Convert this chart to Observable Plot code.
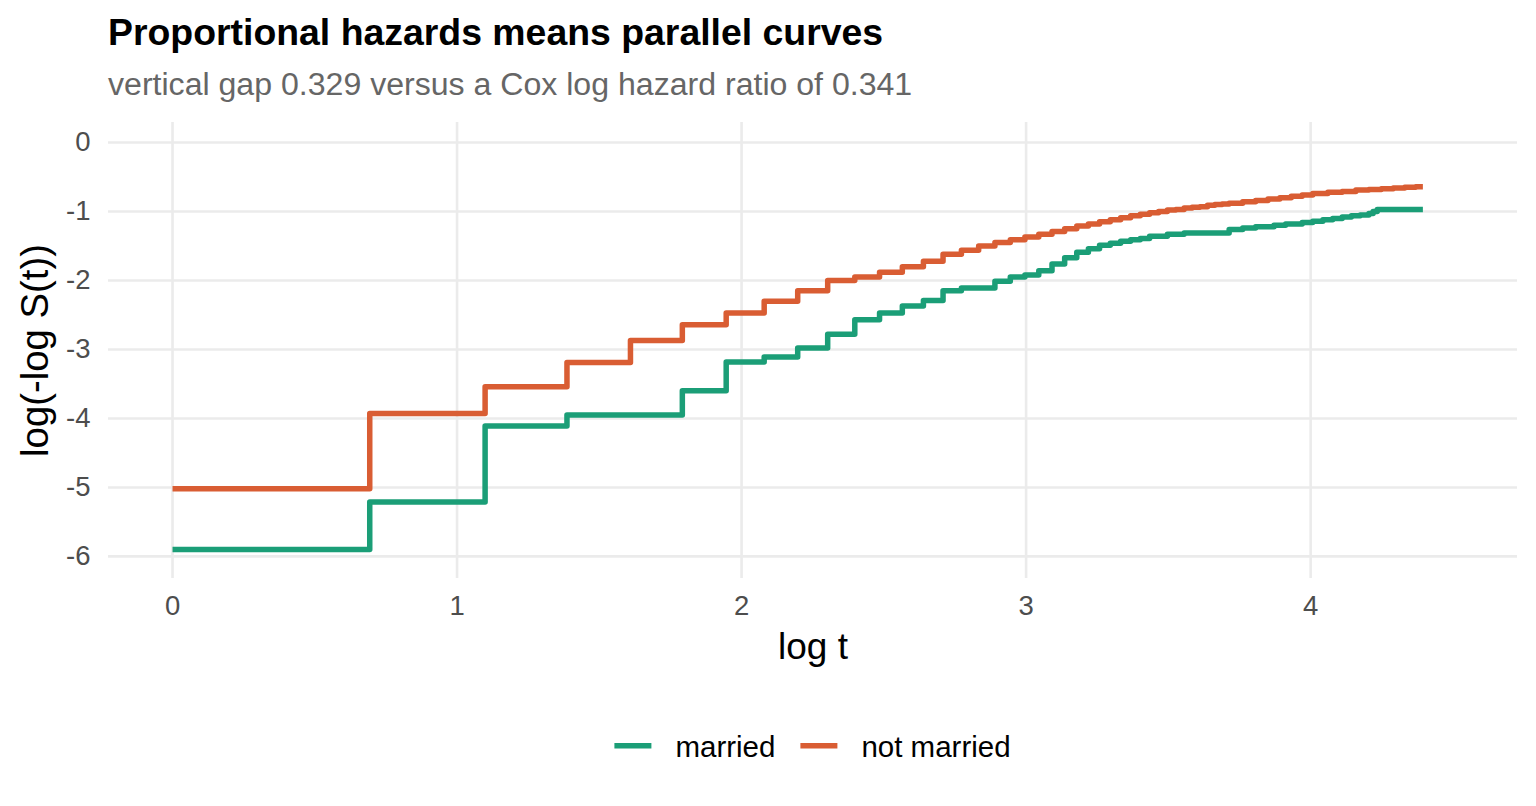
<!DOCTYPE html>
<html>
<head>
<meta charset="utf-8">
<script src="https://cdn.jsdelivr.net/npm/d3@7"></script>
<script src="https://cdn.jsdelivr.net/npm/@observablehq/plot@0.6"></script>
<style>
  html, body { margin: 0; padding: 0; background: #fff; }
  body { font-family: "Liberation Sans", Arial, Helvetica, sans-serif; }
  #wrap { position: relative; width: 1536px; height: 806px; overflow: hidden; background: #fff; }
  #title { position: absolute; left: 108px; top: 14px; font-size: 37.4px; line-height: 37.4px; font-weight: bold; color: #000; white-space: nowrap; }
  #subtitle { position: absolute; left: 108px; top: 68px; font-size: 32.1px; line-height: 32.1px; color: #666; white-space: nowrap; }
  #chart { position: absolute; left: 0; top: 110px; }
  #legend { position: absolute; left: 0; top: 715px; }
</style>
</head>
<body>
<div id="wrap">
  <div id="title"></div>
  <div id="subtitle"></div>
  <div id="chart"></div>
  <svg id="legend" width="1536" height="70"></svg>
</div>
<script>
// ---- data ----
const titleText = "Proportional hazards means parallel curves";
const subtitleText = "vertical gap 0.329 versus a Cox log hazard ratio of 0.341";
const xLabel = "log t";
const yLabel = "log(-log S(t))";

const groups = ["married", "not married"];
const colors = ["#1b9e77", "#d95d33"];

const marriedTime  = [1, 2, 3, 4, 6, 7, 8, 9, 10, 11, 12, 13, 14, 15, 16, 18, 19, 20, 21, 22, 23, 24, 25, 26, 27, 28, 29, 30, 31, 33, 35, 41, 43, 45, 48, 50, 53, 55, 57, 59, 61, 63, 65, 67, 68, 69, 81];
const marriedValue = [-5.90, -5.21, -4.11, -3.95, -3.60, -3.18, -3.11, -2.98, -2.78, -2.57, -2.47, -2.37, -2.29, -2.15, -2.11, -2.01, -1.95, -1.92, -1.86, -1.76, -1.67, -1.59, -1.54, -1.49, -1.46, -1.43, -1.41, -1.39, -1.36, -1.33, -1.31, -1.26, -1.24, -1.22, -1.20, -1.18, -1.16, -1.14, -1.12, -1.10, -1.08, -1.06, -1.05, -1.03, -1.00, -0.97, -0.97];

const notMarriedTime  = [1, 2, 3, 4, 5, 6, 7, 8, 9, 10, 11, 12, 13, 14, 15, 16, 17, 18, 19, 20, 21, 22, 23, 24, 25, 26, 27, 28, 29, 30, 31, 32, 33, 34, 35, 36, 37, 38, 39, 40, 41, 43, 45, 47, 49, 51, 53, 55, 58, 61, 64, 67, 70, 73, 76, 79, 81];
const notMarriedValue = [-5.02, -3.93, -3.54, -3.19, -2.87, -2.64, -2.47, -2.30, -2.15, -2.00, -1.95, -1.88, -1.80, -1.72, -1.62, -1.56, -1.50, -1.45, -1.41, -1.37, -1.33, -1.29, -1.25, -1.21, -1.18, -1.15, -1.12, -1.09, -1.06, -1.04, -1.02, -1.00, -0.98, -0.97, -0.95, -0.94, -0.93, -0.91, -0.90, -0.89, -0.88, -0.86, -0.84, -0.82, -0.80, -0.78, -0.76, -0.74, -0.72, -0.71, -0.69, -0.68, -0.67, -0.66, -0.65, -0.64, -0.64];

const xTicks = [0, 1, 2, 3, 4];
const yTicks = [0, -1, -2, -3, -4, -5, -6];

// ---- build table ----
const rows = [];
marriedTime.forEach((t, i) => rows.push({group: groups[0], t, v: marriedValue[i]}));
notMarriedTime.forEach((t, i) => rows.push({group: groups[1], t, v: notMarriedValue[i]}));

document.getElementById("title").textContent = titleText;
document.getElementById("subtitle").textContent = subtitleText;

const FONT = "Liberation Sans, Arial, Helvetica, sans-serif";
const grid = {stroke: "#ebebeb", strokeOpacity: 1, strokeWidth: 2.6};

const plot = Plot.plot({
  width: 1536,
  height: 580,
  marginLeft: 108,
  marginRight: 19,
  marginTop: 12,
  marginBottom: 112,
  style: {fontFamily: FONT, background: "white", overflow: "visible"},
  x: {domain: [-0.225, 4.727]},
  y: {domain: [-6.32, 0.29]},
  color: {domain: groups, range: colors},
  marks: [
    Plot.gridX(xTicks, grid),
    Plot.gridY(yTicks, grid),
    Plot.axisX(xTicks, {tickSize: 0, tickPadding: 17, fontSize: 27.5, fill: "#4d4d4d", label: null, tickFormat: d => String(d)}),
    Plot.axisY(yTicks, {tickSize: 0, tickPadding: 18, fontSize: 27.5, fill: "#4d4d4d", label: null, tickFormat: d => String(d)}),
    Plot.line(rows, {
      x: d => Math.log(d.t), y: "v", z: "group", stroke: "group",
      strokeWidth: 5.5, curve: "step-after", strokeLinejoin: "round", strokeLinecap: "butt"
    }),
    Plot.text([xLabel], {text: d => d, frameAnchor: "bottom", dy: 80, lineAnchor: "bottom", textAnchor: "middle", fontSize: 37, fill: "#000"}),
    Plot.text([yLabel], {text: d => d, frameAnchor: "left", dx: -61, rotate: -90, lineAnchor: "bottom", textAnchor: "middle", fontSize: 38.3, fill: "#000"})
  ]
});
document.getElementById("chart").appendChild(plot);

// ---- legend ----
const legend = d3.select("#legend").style("font-family", FONT);
const keyW = 37, keyGap = 24, itemGap = 25, fs = 29.5;
const items = legend.selectAll("g").data(groups).join("g");
items.append("line")
  .attr("x1", 0).attr("x2", keyW).attr("y1", 30.7).attr("y2", 30.7)
  .attr("stroke", (d, i) => colors[i]).attr("stroke-width", 5.5);
items.append("text")
  .attr("x", keyW + keyGap).attr("y", 41.7)
  .attr("font-size", fs).attr("fill", "#000")
  .text(d => d);
const widths = [];
items.each(function() { widths.push(this.getBBox().width); });
const total = d3.sum(widths) + itemGap * (groups.length - 1);
let x0 = (108 + 1517) / 2 - total / 2;
items.attr("transform", (d, i) => {
  const tx = x0;
  x0 += widths[i] + itemGap;
  return `translate(${tx},0)`;
});
</script>
</body>
</html>
